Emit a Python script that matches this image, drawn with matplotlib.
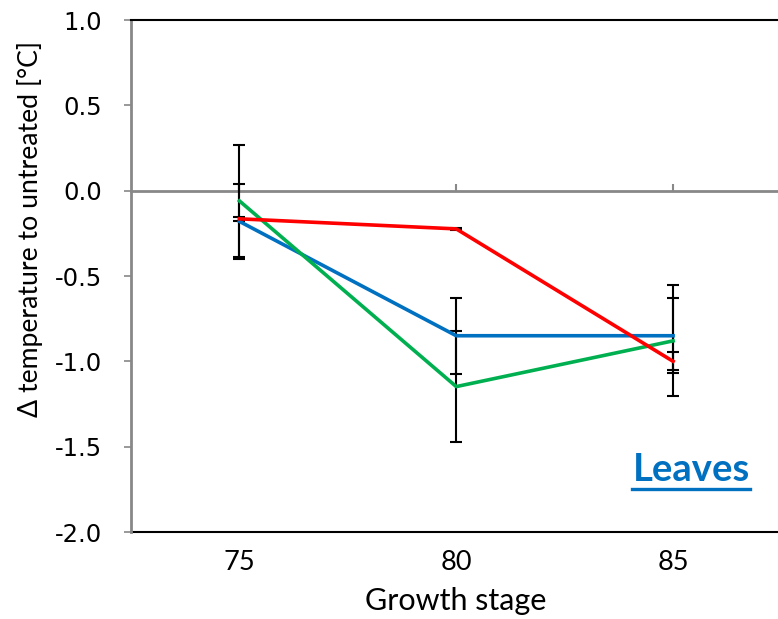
import matplotlib.pyplot as plt

stages = ['75', '80', '85']

blue = [-0.18, -0.85, -0.85]
blue_err = [0.22, 0.222, 0.22]
red = [-0.165, -0.224, -1.0]
red_err = [0.01, 0.006, 0.052]
green = [-0.06, -1.148, -0.88]
green_err = [0.33, 0.326, 0.326]


def main():
    fig = plt.figure(figsize=(7.78, 6.19), dpi=100)
    ax = fig.add_axes([131 / 778, 87 / 619, 650.5 / 778, 512 / 619])

    x = list(range(len(stages)))
    series = [
        (blue, blue_err, '#0070C0'),
        (green, green_err, '#00B050'),
        (red, red_err, '#FF0000'),
    ]
    for vals, errs, col in series:
        ax.errorbar(x, vals, yerr=errs, color=col, lw=2.6,
                    ecolor='black', elinewidth=1.5, capsize=4.5,
                    capthick=1.5, zorder=3)

    ax.set_xlim(-0.5, 2.5)
    ax.set_ylim(-2.0, 1.0)
    ax.set_yticks([1.0, 0.5, 0.0, -0.5, -1.0, -1.5, -2.0])
    ax.set_yticklabels(['1.0', '0.5', '0.0', '-0.5', '-1.0', '-1.5', '-2.0'],
                       fontsize=17.5, family='DejaVu Sans')
    ax.tick_params(axis='y', direction='out', length=5, width=1.2,
                   color='#888888', pad=16)

    # x axis line sits at zero, ticks point upward, no labels there
    ax.spines['bottom'].set_position(('data', 0))
    ax.spines['bottom'].set_color('#888888')
    ax.spines['bottom'].set_linewidth(2)
    ax.set_xticks(x)
    ax.tick_params(axis='x', direction='in', length=5, width=1.5,
                   color='#888888', labelbottom=False)

    ax.spines['left'].set_color('#888888')
    ax.spines['left'].set_linewidth(2)
    ax.spines['top'].set_color('black')
    ax.spines['top'].set_linewidth(1.5)
    ax.spines['right'].set_visible(False)

    sec = ax.secondary_xaxis('bottom')
    sec.set_xticks(x, stages, fontsize=19.5, family='Lato')
    sec.tick_params(length=0, pad=13)
    sec.spines['bottom'].set_color('black')
    sec.spines['bottom'].set_linewidth(1.5)

    fig.text(456 / 778, 1 - 601 / 619, 'Growth stage', fontsize=22,
             family='Lato', ha='center', va='center')
    fig.text(30 / 778, 1 - 229 / 619, 'Δ temperature to untreated [°C]',
             fontsize=19.2, family='Lato', rotation=90,
             ha='center', va='center')

    t = ax.text(0.861, 0.0996, 'Leaves', transform=ax.transAxes,
                fontsize=27.5, family='Lato', fontweight='bold',
                color='#0070C0', ha='center', va='baseline')

    # underline under the label
    fig.canvas.draw()
    bb = t.get_window_extent(renderer=fig.canvas.get_renderer())
    bb = bb.transformed(fig.transFigure.inverted())
    uy = bb.y0 - 0.003
    fig.add_artist(plt.Line2D([bb.x0, bb.x1], [uy, uy], color='#0070C0',
                              lw=2.4, transform=fig.transFigure))

    fig.savefig('out.png', dpi=100)


if __name__ == "__main__":
    main()
